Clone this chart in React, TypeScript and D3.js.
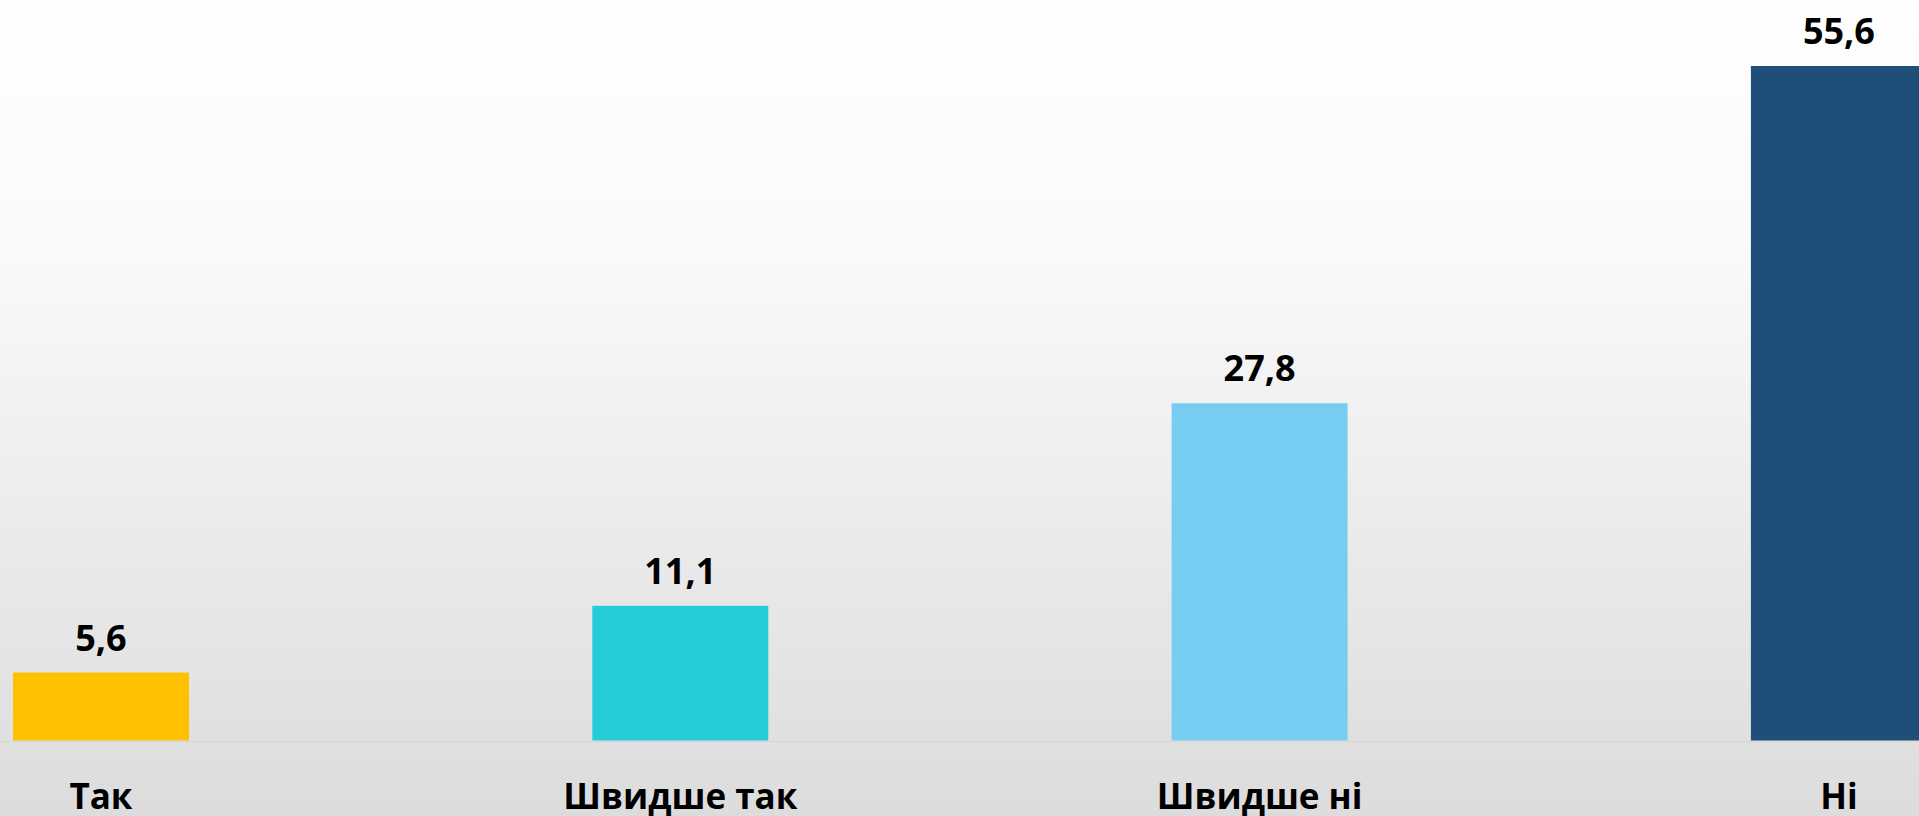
import React from "react";
import * as d3 from "d3";

const categories = ["Так", "Швидше так", "Швидше ні", "Ні"];
const values = [5.6, 11.1, 27.8, 55.6];
const colors = ["#FFC000", "#26CDD8", "#77CDF1", "#1F4E79"];
const valueLabels = ["5,6", "11,1", "27,8", "55,6"];

const W = 1919;
const H = 816;

export default function App() {
  const x = d3
    .scaleBand<string>()
    .domain(categories)
    .range([13, 1926.9])
    .paddingInner(0.6962)
    .paddingOuter(0);
  const y = d3.scaleLinear().domain([0, 61]).range([740.5, 0.5]);
  const font = "'Open Sans', 'Noto Sans', sans-serif";
  const bw = x.bandwidth();
  return (
    <svg
      width={W}
      height={H}
      style={{ position: "fixed", left: 0, top: 0, display: "block" }}
      xmlns="http://www.w3.org/2000/svg"
    >
      <defs>
        <linearGradient id="bg" x1="0" y1="0" x2="0" y2="1">
          <stop offset="0" stopColor="#ffffff" />
          <stop offset="0.3" stopColor="#fafafa" />
          <stop offset="1" stopColor="#dcdcdc" />
        </linearGradient>
      </defs>
      <rect x={0} y={0} width={W} height={H} fill="url(#bg)" />
      <line x1={0} x2={W} y1={741.5} y2={741.5} stroke="#d6d6d6" strokeWidth={1} />
      {categories.map((c, i) => {
        const x0 = x(c) as number;
        const cx = x0 + bw / 2;
        return (
          <g key={c}>
            <rect x={x0} y={y(values[i])} width={bw} height={y(0) - y(values[i])} fill={colors[i]} />
            <text
              x={cx}
              y={y(values[i]) - 22}
              textAnchor="middle"
              fontFamily={font}
              fontWeight={700}
              fontSize={36}
              fill="#000"
            >
              {valueLabels[i]}
            </text>
            <text
              x={cx}
              y={809}
              textAnchor="middle"
              fontFamily={font}
              fontWeight={700}
              fontSize={35}
              fill="#000"
            >
              {c}
            </text>
          </g>
        );
      })}
    </svg>
  );
}
